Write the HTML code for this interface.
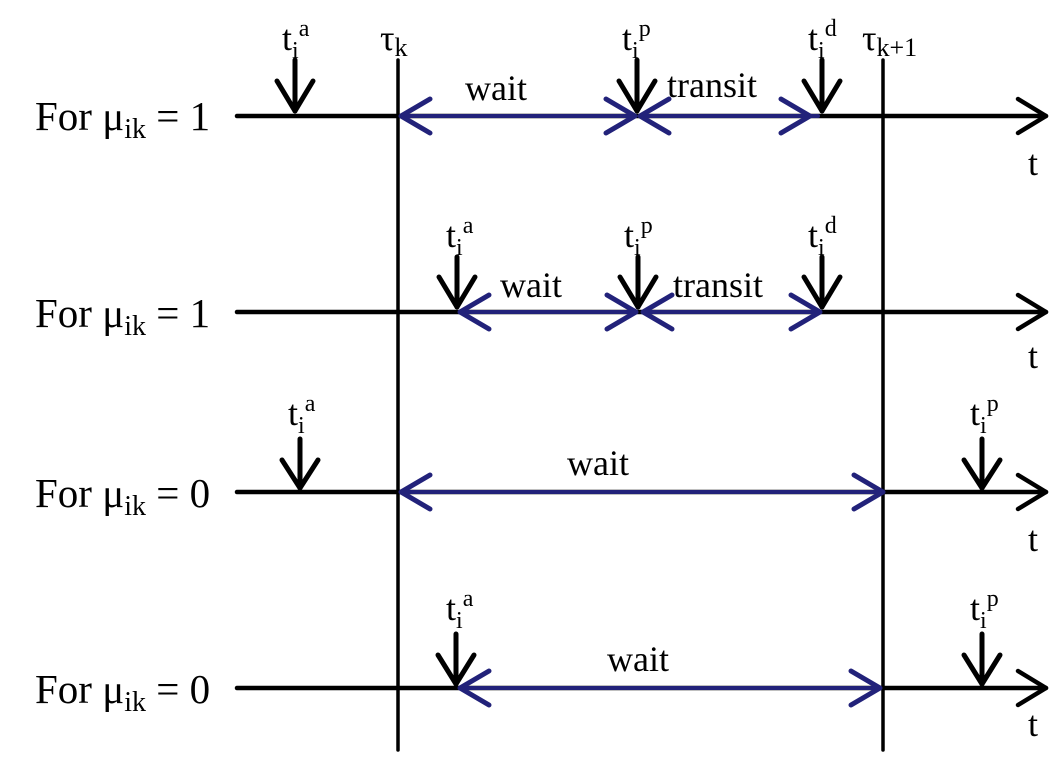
<!DOCTYPE html>
<html><head><meta charset="utf-8"><style>
html,body{margin:0;padding:0;background:#fff;}
svg{display:block}
text{font-family:"Liberation Serif",serif;fill:#000}
</style></head><body>
<svg width="1064" height="763" viewBox="0 0 1064 763" xmlns="http://www.w3.org/2000/svg">
<g stroke="#000" stroke-width="4.5" fill="none" stroke-linecap="round" stroke-linejoin="round">
  <line x1="398" y1="60" x2="398" y2="750" stroke-width="3.5"/>
  <line x1="883" y1="60" x2="883" y2="750" stroke-width="3.5"/>
  <line x1="237" y1="116" x2="1046" y2="116"/><polyline points="1018,99 1046,116 1018,133"/>
  <line x1="237" y1="312" x2="1046" y2="312"/><polyline points="1018,295 1046,312 1018,329"/>
  <line x1="237" y1="492" x2="1046" y2="492"/><polyline points="1018,475 1046,492 1018,509"/>
  <line x1="237" y1="688" x2="1046" y2="688"/><polyline points="1018,671 1046,688 1018,705"/>
  <g stroke-width="5">
    <line x1="295" y1="60" x2="295" y2="111"/><polyline points="277,81 295,111 313,81"/>
    <line x1="637" y1="60" x2="637" y2="111"/><polyline points="619,81 637,111 655,81"/>
    <line x1="822" y1="60" x2="822" y2="111"/><polyline points="804,81 822,111 840,81"/>
    <line x1="457" y1="257" x2="457" y2="307"/><polyline points="439,277 457,307 475,277"/>
    <line x1="638" y1="257" x2="638" y2="307"/><polyline points="620,277 638,307 656,277"/>
    <line x1="822" y1="257" x2="822" y2="307"/><polyline points="804,277 822,307 840,277"/>
    <line x1="300" y1="439" x2="300" y2="488"/><polyline points="282,460 300,488 318,460"/>
    <line x1="982" y1="439" x2="982" y2="488"/><polyline points="964,460 982,488 1000,460"/>
    <line x1="456" y1="634" x2="456" y2="684"/><polyline points="438,655 456,684 474,655"/>
    <line x1="982" y1="634" x2="982" y2="684"/><polyline points="964,655 982,684 1000,655"/>
  </g>
</g>
<g stroke="#22227a" stroke-width="4" fill="none" stroke-linecap="round" stroke-linejoin="round">
  <line x1="401" y1="116" x2="635" y2="116"/>
  <line x1="640" y1="116" x2="818" y2="116"/>
  <line x1="460" y1="312" x2="636" y2="312"/>
  <line x1="643" y1="312" x2="820" y2="312"/>
  <line x1="401" y1="492" x2="883" y2="492"/>
  <line x1="460" y1="688" x2="880" y2="688"/>
  <g stroke-width="5">
  <polyline points="430,99 401,116 430,133"/><polyline points="606,99 635,116 606,133"/>
  <polyline points="669,99 640,116 669,133"/><polyline points="781,99 810,116 781,133"/>
  <polyline points="489,295 460,312 489,329"/><polyline points="607,295 636,312 607,329"/>
  <polyline points="672,295 643,312 672,329"/><polyline points="791,295 820,312 791,329"/>
  <polyline points="430,475 401,492 430,509"/><polyline points="854,475 883,492 854,509"/>
  <polyline points="489,671 460,688 489,705"/><polyline points="851,671 880,688 851,705"/>
  </g>
</g>
<g font-size="41">
  <text x="35" y="130">For μ<tspan font-size="28" dy="8">ik</tspan><tspan dy="-8"> = 1</tspan></text>
  <text x="35" y="327">For μ<tspan font-size="28" dy="8">ik</tspan><tspan dy="-8"> = 1</tspan></text>
  <text x="35" y="507">For μ<tspan font-size="28" dy="8">ik</tspan><tspan dy="-8"> = 0</tspan></text>
  <text x="35" y="703">For μ<tspan font-size="28" dy="8">ik</tspan><tspan dy="-8"> = 0</tspan></text>
</g>
<g font-size="36">
  <text x="465" y="100">wait</text>
  <text x="667" y="97">transit</text>
  <text x="500" y="297">wait</text>
  <text x="673" y="297">transit</text>
  <text x="567" y="475">wait</text>
  <text x="607" y="671">wait</text>
  <text x="1028" y="175">t</text>
  <text x="1028" y="368">t</text>
  <text x="1028" y="551">t</text>
  <text x="1028" y="736">t</text>
  <text x="380" y="50">τ<tspan font-size="26" dy="6">k</tspan></text>
  <text x="862" y="50">τ<tspan font-size="26" dy="6">k+1</tspan></text>
</g>
<g font-size="36">
  <text x="282" y="50">t<tspan font-size="24" dy="8">i</tspan><tspan font-size="24" dy="-22">a</tspan></text>
  <text x="622" y="50">t<tspan font-size="24" dy="8">i</tspan><tspan font-size="24" dy="-22">p</tspan></text>
  <text x="808" y="50">t<tspan font-size="24" dy="8">i</tspan><tspan font-size="24" dy="-22">d</tspan></text>
  <text x="446" y="247">t<tspan font-size="24" dy="8">i</tspan><tspan font-size="24" dy="-22">a</tspan></text>
  <text x="624" y="247">t<tspan font-size="24" dy="8">i</tspan><tspan font-size="24" dy="-22">p</tspan></text>
  <text x="808" y="247">t<tspan font-size="24" dy="8">i</tspan><tspan font-size="24" dy="-22">d</tspan></text>
  <text x="288" y="425">t<tspan font-size="24" dy="8">i</tspan><tspan font-size="24" dy="-22">a</tspan></text>
  <text x="970" y="425">t<tspan font-size="24" dy="8">i</tspan><tspan font-size="24" dy="-22">p</tspan></text>
  <text x="446" y="620">t<tspan font-size="24" dy="8">i</tspan><tspan font-size="24" dy="-22">a</tspan></text>
  <text x="970" y="620">t<tspan font-size="24" dy="8">i</tspan><tspan font-size="24" dy="-22">p</tspan></text>
</g>
</svg>
</body></html>
